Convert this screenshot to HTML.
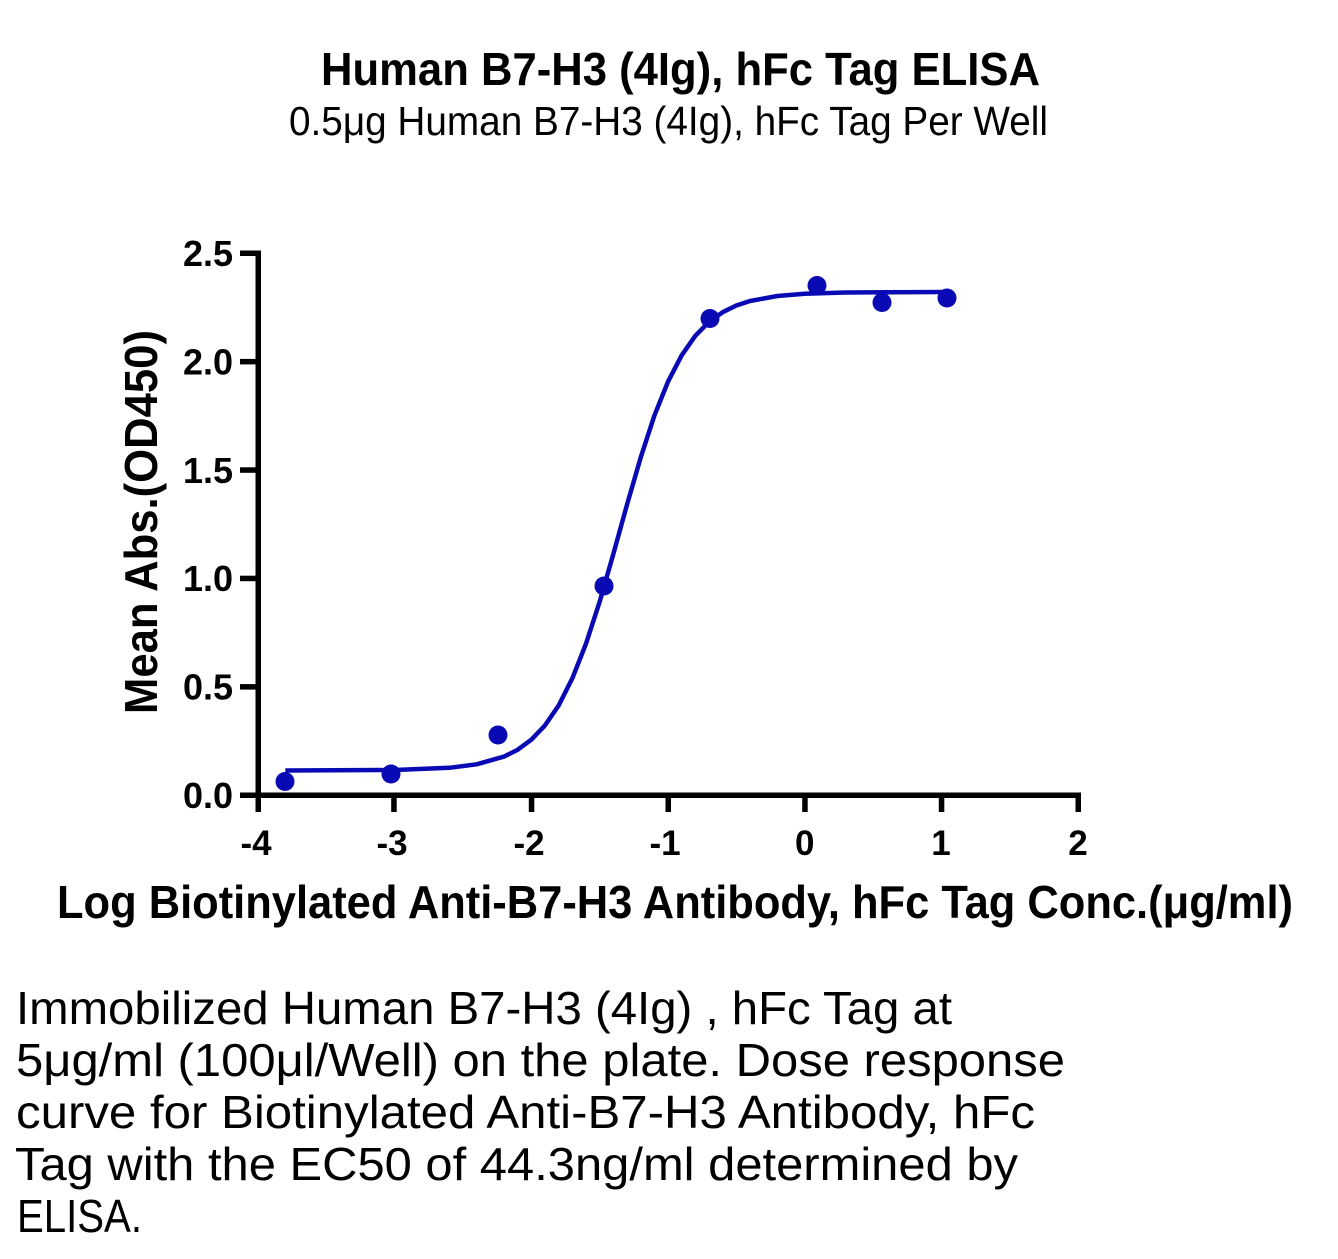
<!DOCTYPE html>
<html>
<head>
<meta charset="utf-8">
<style>
  html, body { margin: 0; padding: 0; background: #ffffff; }
  svg { display: block; }
  .b { font-family: "Liberation Sans", Arial, sans-serif; font-weight: bold; fill: #000; }
  .r { font-family: "Liberation Sans", Arial, sans-serif; font-weight: normal; fill: #000; }
</style>
</head>
<body>
<svg width="1338" height="1259" viewBox="0 0 1338 1259" xmlns="http://www.w3.org/2000/svg">
  <rect x="0" y="0" width="1338" height="1259" fill="#ffffff"/>

  <!-- Titles -->
  <text class="b" x="321" y="85" font-size="46" textLength="719" lengthAdjust="spacingAndGlyphs">Human B7-H3 (4Ig), hFc Tag ELISA</text>
  <text class="r" x="289" y="135" font-size="41" textLength="759" lengthAdjust="spacingAndGlyphs">0.5μg Human B7-H3 (4Ig), hFc Tag Per Well</text>

  <!-- Axes -->
  <rect x="255.5" y="250.5" width="5.5" height="547" fill="#000"/>
  <rect x="240" y="792.5" width="841" height="5.5" fill="#000"/>

  <!-- Y ticks -->
  <rect x="240" y="250.5" width="18" height="5.5" fill="#000"/>
  <rect x="240" y="358.9" width="18" height="5.5" fill="#000"/>
  <rect x="240" y="467.3" width="18" height="5.5" fill="#000"/>
  <rect x="240" y="575.7" width="18" height="5.5" fill="#000"/>
  <rect x="240" y="684.1" width="18" height="5.5" fill="#000"/>

  <!-- X ticks -->
  <rect x="255.5" y="795" width="5.5" height="17" fill="#000"/>
  <rect x="391.2" y="795" width="5.5" height="17" fill="#000"/>
  <rect x="528.8" y="795" width="5.5" height="17" fill="#000"/>
  <rect x="665.5" y="795" width="5.5" height="17" fill="#000"/>
  <rect x="802.2" y="795" width="5.5" height="17" fill="#000"/>
  <rect x="938.8" y="795" width="5.5" height="17" fill="#000"/>
  <rect x="1075.5" y="795" width="5.5" height="17" fill="#000"/>

  <!-- Y tick labels -->
  <g class="b" font-size="36" text-anchor="end">
    <text x="233" y="266">2.5</text>
    <text x="233" y="374.5">2.0</text>
    <text x="233" y="483">1.5</text>
    <text x="233" y="591">1.0</text>
    <text x="233" y="699.5">0.5</text>
    <text x="233" y="808">0.0</text>
  </g>

  <!-- X tick labels -->
  <g class="b" font-size="35" text-anchor="middle">
    <text x="256" y="855">-4</text>
    <text x="392" y="855">-3</text>
    <text x="529" y="855">-2</text>
    <text x="665" y="855">-1</text>
    <text x="804.7" y="855">0</text>
    <text x="941" y="855">1</text>
    <text x="1078" y="855">2</text>
  </g>

  <!-- Axis titles -->
  <text class="b" x="57" y="918" font-size="46" textLength="1236" lengthAdjust="spacingAndGlyphs">Log Biotinylated Anti-B7-H3 Antibody, hFc Tag Conc.(μg/ml)</text>
  <text class="b" font-size="46" textLength="384" lengthAdjust="spacingAndGlyphs" transform="translate(157,714) rotate(-90)">Mean Abs.(OD450)</text>

  <!-- Fitted curve -->
  <path fill="none" stroke="#0a0ab4" stroke-width="4.5" stroke-linejoin="round" stroke-linecap="butt"
    d="M285.3,770.5 L394.7,770.0 L449.3,767.8 L476.7,764.3 L504.0,756.6 L517.7,749.7 L531.3,739.7 L545.0,725.4 L558.7,705.4 L572.3,678.4 L586.0,643.7 L599.7,601.6 L613.3,554.1 L627.0,504.7 L640.7,457.5 L654.3,415.8 L668.0,381.7 L681.7,355.3 L695.3,335.8 L709.0,321.9 L722.7,312.2 L736.3,305.5 L750.0,301.0 L777.3,296.0 L804.7,293.8 L845.7,292.5 L886.7,292.2 L946.8,292.0"/>

  <!-- Data points -->
  <g fill="#0a0ab4">
    <circle cx="285" cy="781.5" r="9.5"/>
    <circle cx="391" cy="774" r="9.5"/>
    <circle cx="498" cy="735" r="9.5"/>
    <circle cx="604" cy="586" r="9.5"/>
    <circle cx="710" cy="318.5" r="9.5"/>
    <circle cx="817" cy="285.5" r="9.5"/>
    <circle cx="882" cy="302.5" r="9.5"/>
    <circle cx="947" cy="298" r="9.5"/>
  </g>

  <!-- Caption -->
  <g class="r" font-size="46">
    <text x="16" y="1024" textLength="936" lengthAdjust="spacingAndGlyphs">Immobilized Human B7-H3 (4Ig) , hFc Tag at</text>
    <text x="16" y="1076" textLength="1049" lengthAdjust="spacingAndGlyphs">5μg/ml (100μl/Well) on the plate. Dose response</text>
    <text x="16" y="1128" textLength="1019" lengthAdjust="spacingAndGlyphs">curve for Biotinylated Anti-B7-H3 Antibody, hFc</text>
    <text x="15" y="1180" textLength="1003" lengthAdjust="spacingAndGlyphs">Tag with the EC50 of 44.3ng/ml determined by</text>
    <text x="17" y="1232" textLength="125" lengthAdjust="spacingAndGlyphs">ELISA.</text>
  </g>
</svg>
</body>
</html>
